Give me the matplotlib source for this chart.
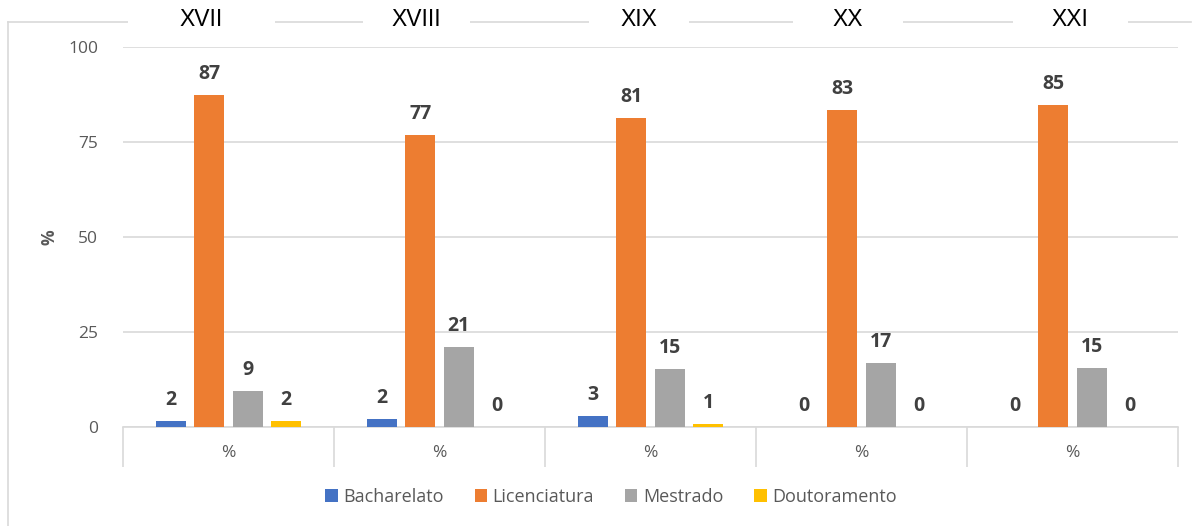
import matplotlib
matplotlib.use("Agg")
import matplotlib.pyplot as plt
from matplotlib.patches import Rectangle
from matplotlib.lines import Line2D
import numpy as np

plt.rcParams['font.family'] = ['Open Sans', 'DejaVu Sans']

groups = ["XVII", "XVIII", "XIX", "XX", "XXI"]
series = ["Bacharelato", "Licenciatura", "Mestrado", "Doutoramento"]
bacharelato = [1.6, 2.1, 2.9, 0.0, 0.0]
licenciatura = [87.4, 76.8, 81.3, 83.4, 84.7]
mestrado = [9.5, 21.1, 15.3, 16.8, 15.6]
doutoramento = [1.6, 0.0, 0.8, 0.0, 0.0]
labels_b = [2, 2, 3, 0, 0]
labels_l = [87, 77, 81, 83, 85]
labels_m = [9, 21, 15, 17, 15]
labels_d = [2, 0, 1, 0, 0]
tick_label = "%"
yticks = [0, 25, 50, 75, 100]

colors = ["#4472C4", "#ED7D31", "#A5A5A5", "#FFC000"]
W, H = 1192, 526
fig = plt.figure(figsize=(W / 100, H / 100), dpi=100)

# outer frame
fc = "#d9d9d9"
fig.add_artist(Line2D([8 / W, 8 / W], [0, 1 - 22 / H], color=fc, lw=1.2, transform=fig.transFigure, zorder=-3))
fig.add_artist(Line2D([8 / W, 1191 / W], [1 - 22 / H, 1 - 22 / H], color=fc, lw=1.2, transform=fig.transFigure, zorder=-3))

ax = fig.add_axes([123 / W, 1 - 427 / H, (1178 - 123) / W, (427 - 47) / H])
ax.set_facecolor("none")

x = np.arange(len(groups))
bw = 0.142
step = 0.182
all_vals = [bacharelato, licenciatura, mestrado, doutoramento]
all_labels = [labels_b, labels_l, labels_m, labels_d]
for j, (vals, labs) in enumerate(zip(all_vals, all_labels)):
    xs = x + (j - 1.5) * step
    ax.bar(xs, vals, width=bw, color=colors[j], label=series[j], zorder=3)
    for xi, v, lab in zip(xs, vals, labs):
        ax.annotate(str(lab), (xi, v), xytext=(0, 8), textcoords="offset points",
                    ha="center", va="bottom", fontsize=14, fontweight="bold", color="#404040")

ax.set_xlim(-0.5, len(groups) - 0.5)
ax.set_ylim(0, 100)
ax.set_yticks(yticks)
ax.yaxis.grid(True, color=fc, lw=1.2, zorder=0)
ax.tick_params(axis="y", length=0, labelsize=12.5, labelcolor="#595959", pad=18)
for s in ["left", "right", "top"]:
    ax.spines[s].set_visible(False)
ax.spines["bottom"].set_color(fc)
ax.spines["bottom"].set_linewidth(1.2)

ax.set_xticks(np.arange(len(groups) + 1) - 0.5)
ax.set_xticklabels([])
ax.tick_params(axis="x", which="major", length=29, color=fc, width=1.2, direction="out")
ax.set_xticks(x, minor=True)
ax.set_xticklabels([tick_label] * len(groups), minor=True)
ax.tick_params(axis="x", which="minor", length=0, labelsize=12.5, labelcolor="#595959", pad=13)

ax.set_ylabel("%", fontsize=12.5, fontweight="bold", color="#595959", labelpad=7)

# group headers over the frame line
hx = [201, 416, 639, 848, 1070]
hw = [147, 107, 100, 110, 115]
for g, cx, w in zip(groups, hx, hw):
    fig.add_artist(Rectangle(((cx - w / 2) / W, 1 - 34 / H), w / W, 24 / H, transform=fig.transFigure,
                             facecolor="white", edgecolor="none", zorder=-2))
    fig.text(cx / W, 1 - 20 / H, g, ha="center", va="center", fontsize=16.5, color="black",
             family=["Liberation Sans", "DejaVu Sans"])

leg = fig.legend(loc="center", bbox_to_anchor=(611 / W, 1 - 497 / H), ncol=4, frameon=False,
                 fontsize=13, handlelength=0.7, handleheight=0.7, handletextpad=0.3, columnspacing=1.7)
for t in leg.get_texts():
    t.set_color("#595959")

fig.savefig("out.png", dpi=100)
